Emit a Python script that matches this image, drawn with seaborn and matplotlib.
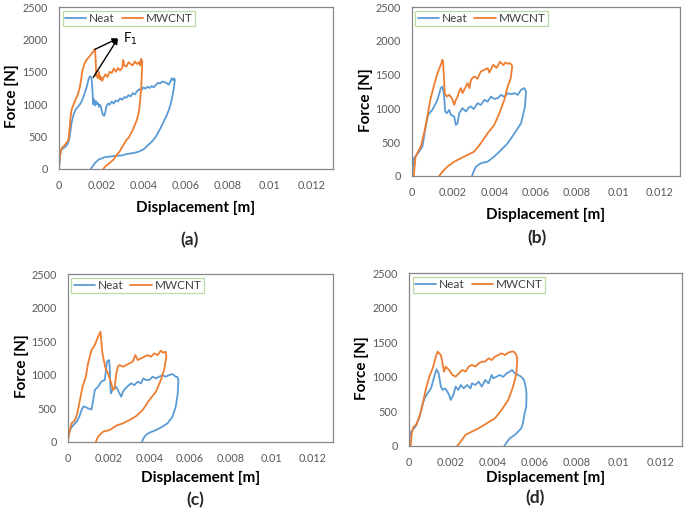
import numpy as np
import pandas as pd
import matplotlib
matplotlib.use("Agg")
import matplotlib.pyplot as plt
import seaborn as sns

sns.set_theme(style="white")
plt.rcParams['font.family'] = ['Lato', 'DejaVu Sans']

# displacement read in mm (converted to m below), force in N
# (a)
a_neat_x = [0, 0.05, 0.1, 0.2, 0.3, 0.4, 0.45, 0.5, 0.55, 0.6, 0.7, 0.8, 0.9, 1.0, 1.1, 1.2, 1.3, 1.4, 1.45, 1.5,
            1.55, 1.6, 1.62, 1.65, 1.7, 1.75, 1.8, 1.85, 1.9, 1.95, 2.0, 2.05, 2.1, 2.15, 2.2, 2.25, 2.3, 2.35, 2.4, 2.5,
            2.6, 2.7, 2.8, 2.9, 3.0, 3.1, 3.2, 3.3, 3.4, 3.5, 3.6, 3.7, 3.8, 3.9, 4.0, 4.1, 4.2, 4.3, 4.4, 4.5,
            4.6, 4.7, 4.8, 4.9, 5.0, 5.1, 5.2, 5.3, 5.35, 5.4, 5.45, 5.5,
            5.45, 5.4, 5.3, 5.2, 5.1, 5.0, 4.8, 4.6, 4.4, 4.2, 4.0, 3.8, 3.6, 3.4, 3.2, 3.0, 2.8, 2.6, 2.4, 2.2,
            2.0, 1.9, 1.8, 1.7, 1.6, 1.5]
a_neat_f = [0, 200, 290, 320, 340, 380, 420, 480, 600, 720, 850, 920, 960, 1000, 1060, 1150, 1250, 1380, 1420, 1430,
            1400, 1150, 1000, 1080, 980, 1050, 1000, 1020, 960, 990, 940, 870, 830, 820, 880, 960, 1000, 1010, 990, 1040,
            1010, 1060, 1040, 1090, 1070, 1110, 1100, 1140, 1120, 1170, 1150, 1200, 1230, 1210, 1260, 1240, 1270, 1250, 1280, 1260,
            1300, 1330, 1320, 1350, 1340, 1330, 1300, 1360, 1400, 1370, 1400, 1380,
            1250, 1150, 1000, 900, 820, 750, 620, 500, 420, 360, 300, 270, 250, 240, 230, 210, 205, 200, 190, 185,
            160, 150, 120, 90, 40, 0]
a_cnt_x = [0, 0.03, 0.08, 0.15, 0.25, 0.35, 0.45, 0.5, 0.55, 0.6, 0.7, 0.8, 0.9, 1.0, 1.05, 1.1, 1.2, 1.3, 1.4, 1.5,
           1.6, 1.7, 1.72, 1.75, 1.77, 1.8, 1.85, 1.9, 1.95, 2.0, 2.05, 2.1, 2.2, 2.3, 2.4, 2.5, 2.6, 2.7, 2.8, 2.9,
           3.0, 3.05, 3.1, 3.2, 3.3, 3.4, 3.5, 3.6, 3.7, 3.8, 3.85, 3.9, 3.95,
           3.93, 3.9, 3.85, 3.8, 3.7, 3.6, 3.5, 3.3, 3.2, 3.0, 2.9, 2.7, 2.6, 2.4, 2.2, 2.1]
a_cnt_f = [0, 150, 280, 330, 360, 400, 450, 600, 800, 920, 1000, 1080, 1150, 1280, 1380, 1500, 1620, 1680, 1720, 1760,
           1800, 1850, 1820, 1600, 1430, 1450, 1400, 1500, 1380, 1420, 1360, 1400, 1460, 1420, 1500, 1480, 1550, 1500, 1560, 1520,
           1560, 1680, 1600, 1580, 1650, 1620, 1600, 1660, 1620, 1650, 1600, 1700, 1660,
           1450, 1250, 1050, 900, 760, 680, 600, 480, 450, 340, 280, 200, 150, 90, 40, 0]

# (b)
b_neat_x = [0, 0.11, 0.36, 0.52, 0.68, 0.79, 1.0, 1.25, 1.41, 1.49, 1.57, 1.62, 1.7, 1.82, 1.9, 2.06, 2.14, 2.22, 2.3, 2.46,
            2.63, 2.75, 2.87, 3.0, 3.19, 3.35, 3.52, 3.68, 3.84, 4.0, 4.17, 4.33, 4.49, 4.65, 4.82, 4.98, 5.14, 5.3, 5.46, 5.54,
            5.49, 5.3, 4.98, 4.65, 4.33, 4.0, 3.68, 3.35, 3.11, 3.0, 2.92]
b_neat_f = [0, 262, 361, 435, 731, 904, 978, 1127, 1300, 1324, 1200, 954, 929, 978, 904, 880, 756, 781, 929, 1003,
            954, 1010, 1028, 990, 1077, 1050, 1127, 1100, 1176, 1140, 1151, 1200, 1170, 1225, 1210, 1225, 1200, 1275, 1300, 1250,
            1028, 781, 632, 484, 385, 287, 212, 188, 138, 64, 0]
b_cnt_x = [0.1, 0.19, 0.31, 0.44, 0.6, 0.73, 0.92, 1.09, 1.25, 1.41, 1.49, 1.52, 1.57, 1.6, 1.7, 1.82, 1.9, 1.98, 2.06, 2.14,
           2.22, 2.3, 2.38, 2.46, 2.55, 2.71, 2.8, 2.87, 3.03, 3.19, 3.35, 3.52, 3.68, 3.76, 3.95, 4.12, 4.28, 4.44, 4.55, 4.65,
           4.75, 4.85, 4.87,
           4.8, 4.65, 4.49, 4.25, 4.0, 3.68, 3.35, 3.03, 2.71, 2.38, 2.06, 1.73, 1.49, 1.33]
b_cnt_f = [0, 287, 361, 435, 633, 830, 1150, 1350, 1522, 1645, 1720, 1690, 1423, 1226, 1176, 1200, 1170, 1127, 1052, 1127,
           1170, 1250, 1300, 1226, 1280, 1374, 1300, 1423, 1472, 1440, 1546, 1571, 1596, 1530, 1645, 1600, 1690, 1640, 1680, 1660,
           1670, 1640, 1620,
           1450, 1324, 1127, 929, 756, 633, 484, 361, 312, 262, 212, 138, 64, 0]

# (c)
c_neat_x = [0, 0.06, 0.15, 0.28, 0.44, 0.57, 0.68, 0.76, 0.84, 1.0, 1.17, 1.25, 1.33, 1.49, 1.65, 1.82, 1.93, 2.03, 2.06, 2.09,
            2.12, 2.19, 2.25, 2.38, 2.46, 2.54, 2.63, 2.71, 2.84, 2.95, 3.11, 3.27, 3.44, 3.6, 3.71, 3.84, 4.0, 4.17, 4.33, 4.49,
            4.65, 4.81, 4.98, 5.14, 5.3, 5.38, 5.43,
            5.4, 5.3, 5.14, 4.89, 4.65, 4.33, 4.0, 3.84, 3.71, 3.65]
c_neat_f = [0, 124, 199, 249, 298, 373, 472, 522, 522, 497, 482, 621, 770, 820, 895, 920, 1193, 1218, 1118, 845,
            721, 770, 795, 820, 770, 721, 671, 746, 795, 830, 870, 845, 895, 870, 944, 920, 920, 969, 944, 969,
            994, 969, 994, 1009, 969, 969, 920,
            721, 522, 373, 273, 224, 174, 134, 99, 50, 0]
c_cnt_x = [0, 0.11, 0.19, 0.36, 0.47, 0.6, 0.73, 0.89, 1.0, 1.17, 1.33, 1.49, 1.61, 1.7, 1.77, 1.86, 1.98, 2.14, 2.22, 2.3,
           2.38, 2.46, 2.54, 2.71, 2.87, 3.03, 3.19, 3.32, 3.44, 3.6, 3.76, 3.92, 4.09, 4.25, 4.41, 4.57, 4.68, 4.81, 4.84,
           4.73, 4.57, 4.33, 4.0, 3.68, 3.35, 3.03, 2.71, 2.38, 2.06, 1.73, 1.49, 1.38]
c_cnt_f = [0, 174, 273, 323, 422, 621, 820, 969, 1168, 1367, 1442, 1566, 1641, 1330, 1219, 1090, 1019, 870, 771, 790,
           1010, 1118, 1143, 1118, 1143, 1168, 1193, 1292, 1218, 1243, 1268, 1292, 1268, 1317, 1292, 1357, 1327, 1342, 1268,
           1069, 920, 746, 620, 473, 380, 323, 273, 239, 174, 149, 75, 0]

# (d)
d_neat_x = [0, 0.06, 0.16, 0.31, 0.5, 0.66, 0.78, 0.89, 1.05, 1.2, 1.31, 1.41, 1.52, 1.6, 1.72, 1.83, 1.91, 1.99, 2.07, 2.14,
            2.22, 2.35, 2.46, 2.61, 2.77, 2.93, 3.0, 3.16, 3.32, 3.47, 3.63, 3.79, 3.94, 4.02, 4.18, 4.33, 4.49, 4.65, 4.8, 4.91,
            5.04, 5.2, 5.35, 5.48, 5.56, 5.6,
            5.59, 5.51, 5.43, 5.35, 5.2, 5.04, 4.8, 4.65, 4.54]
d_neat_f = [0, 183, 232, 280, 425, 618, 714, 763, 835, 1004, 1110, 1052, 859, 811, 835, 787, 738, 666, 714, 763,
            859, 811, 883, 835, 883, 835, 907, 883, 932, 859, 956, 907, 1028, 980, 1004, 1028, 1000, 1052, 1076, 1100,
            1052, 1028, 1004, 956, 859, 763,
            570, 473, 328, 256, 208, 159, 111, 48, 0]
d_cnt_x = [0.08, 0.13, 0.22, 0.34, 0.5, 0.66, 0.81, 0.97, 1.13, 1.28, 1.36, 1.44, 1.52, 1.6, 1.67, 1.75, 1.91, 2.07, 2.22, 2.38,
           2.54, 2.69, 2.85, 3.0, 3.16, 3.32, 3.47, 3.63, 3.79, 3.94, 4.1, 4.26, 4.41, 4.57, 4.73, 4.88, 5.0, 5.12, 5.16,
           5.12, 4.96, 4.73, 4.41, 4.1, 3.71, 3.32, 3.0, 2.69, 2.46, 2.3]
d_cnt_f = [0, 183, 280, 304, 425, 618, 835, 1004, 1125, 1293, 1366, 1342, 1318, 1197, 1076, 1149, 1100, 1028, 1004, 1052,
           1100, 1076, 1149, 1173, 1149, 1197, 1221, 1221, 1269, 1245, 1293, 1318, 1342, 1318, 1351, 1366, 1366, 1318, 1245,
           1052, 859, 666, 521, 401, 328, 256, 208, 159, 63, 0]

x_ticks = [0, 0.002, 0.004, 0.006, 0.008, 0.01, 0.012]
x_tick_labels = ['0', '0.002', '0.004', '0.006', '0.008', '0.01', '0.012']
y_ticks = [0, 500, 1000, 1500, 2000, 2500]

panels = [
    ('(a)', a_neat_x, a_neat_f, a_cnt_x, a_cnt_f),
    ('(b)', b_neat_x, b_neat_f, b_cnt_x, b_cnt_f),
    ('(c)', c_neat_x, c_neat_f, c_cnt_x, c_cnt_f),
    ('(d)', d_neat_x, d_neat_f, d_cnt_x, d_cnt_f),
]
# axes boxes in figure fraction, panel label positions (pixels), xlabel offset (axes fraction)
boxes = [[0.0861, 0.6744, 0.4000, 0.3121],
         [0.6010, 0.6609, 0.3917, 0.3256],
         [0.0988, 0.1489, 0.3869, 0.3231],
         [0.5971, 0.1407, 0.3981, 0.3327]]
label_px = [(190, 240), (537, 238), (195, 500), (535, 498)]
xlab_y = [-0.241, -0.231, -0.216, -0.185]

fig = plt.figure(figsize=(6.85, 5.19), dpi=100)
palette = {'Neat': '#5B9BD5', 'MWCNT': '#ED7D31'}

for (name, nx, nf, cx, cf), box, (px, py), xly in zip(panels, boxes, label_px, xlab_y):
    ax = fig.add_axes(box)
    df = pd.concat([
        pd.DataFrame({'x': np.array(nx) / 1000, 'F': nf, 'series': 'Neat'}),
        pd.DataFrame({'x': np.array(cx) / 1000, 'F': cf, 'series': 'MWCNT'}),
    ], ignore_index=True)
    sns.lineplot(data=df, x='x', y='F', hue='series', palette=palette, sort=False,
                 estimator=None, linewidth=1.3, ax=ax)
    ax.set_xlim(0, 0.013)
    ax.set_ylim(0, 2500)
    ax.set_xticks(x_ticks)
    ax.set_xticklabels(x_tick_labels)
    ax.set_yticks(y_ticks)
    ax.tick_params(length=0, pad=8, labelsize=7.8, colors='#595959')
    for sp in ax.spines.values():
        sp.set_color('#878787')
        sp.set_linewidth(0.9)
    ax.set_xlabel('Displacement [m]', fontsize=11, fontweight='bold', color='black')
    ax.set_ylabel('Force [N]', fontsize=11, fontweight='bold', color='black')
    ax.xaxis.set_label_coords(0.5, xly)
    ax.xaxis.label.set_va('center')
    ax.yaxis.set_label_coords(-0.172, 0.45)
    ax.yaxis.label.set_va('center')
    sns.move_legend(ax, 'upper left', ncol=2, title=None, frameon=True, fancybox=False,
                    fontsize=8.5, handlelength=1.8, handletextpad=0.25, columnspacing=0.6,
                    borderpad=0.2, borderaxespad=0.3, labelcolor='#404040')
    leg = ax.get_legend()
    leg.get_frame().set_edgecolor('#A9D18E')
    leg.get_frame().set_linewidth(0.9)
    fig.text(px / 685, 1 - py / 519, name, fontsize=12.5, fontweight='bold', ha='center', va='center')

    if name == '(a)':
        for start in [(0.00171, 1847), (0.00163, 1415)]:
            ax.annotate('', xy=(0.0028, 2017), xytext=start,
                        arrowprops=dict(arrowstyle='-|>', color='black', lw=1, mutation_scale=8,
                                        shrinkA=0, shrinkB=0))
        ax.text(0.00303, 2000, 'F$_1$', fontsize=9.5, va='center', ha='left', color='black')

fig.savefig('out.png', dpi=100)
